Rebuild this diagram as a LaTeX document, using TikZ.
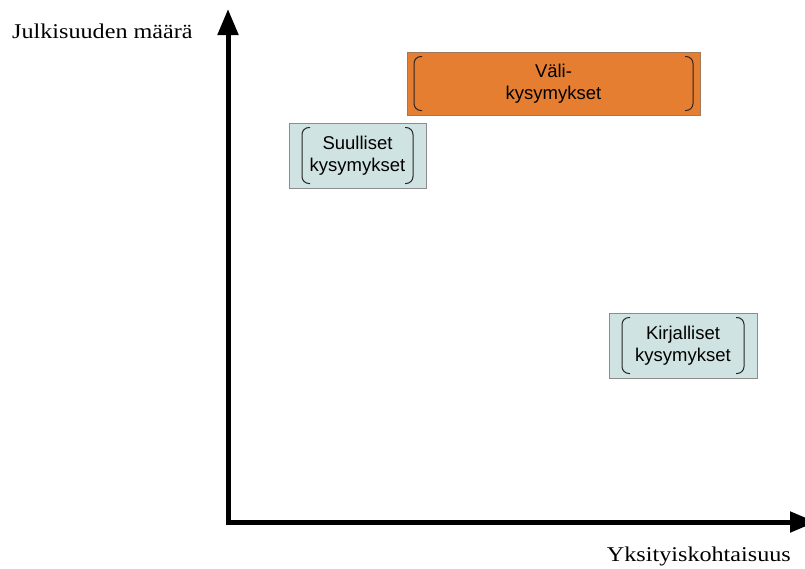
\documentclass[tikz,border=0pt]{standalone}
\usepackage{fontspec}
\setmainfont{Liberation Serif}
\newfontfamily\boxfont{Liberation Sans}
\usetikzlibrary{calc,arrows.meta}

\definecolor{valiorange}{RGB}{230,126,49}
\definecolor{valiedge}{RGB}{160,120,90}
\definecolor{kysfill}{RGB}{207,228,226}
\definecolor{kysedge}{RGB}{140,140,140}

\begin{document}
\begin{tikzpicture}[
  x=1pt, y=-1pt,
  axis/.style={line width=5pt, -{Triangle[length=26pt,width=20pt]}},
  kysbox/.style={rectangle, draw=kysedge, fill=kysfill, line width=0.8pt,
    align=center, font=\boxfont\fontsize{18.5}{22}\selectfont, inner sep=0pt},
  brk/.style={path picture={
    \draw[draw=black!85, line width=1pt, rounded corners=7pt]
      ($(path picture bounding box.north west)+(#1+8pt,-4.5pt)$) --
      ($(path picture bounding box.north west)+(#1,-4.5pt)$) --
      ($(path picture bounding box.south west)+(#1,4.5pt)$) --
      ($(path picture bounding box.south west)+(#1+8pt,4.5pt)$);
    \draw[draw=black!85, line width=1pt, rounded corners=7pt]
      ($(path picture bounding box.north east)+(-#1-8pt,-4.5pt)$) --
      ($(path picture bounding box.north east)+(-#1,-4.5pt)$) --
      ($(path picture bounding box.south east)+(-#1,4.5pt)$) --
      ($(path picture bounding box.south east)+(-#1-8pt,4.5pt)$);
  }},
  axislabel/.style={inner sep=0pt, font=\fontsize{21}{24}\selectfont}
]
\useasboundingbox (0,0) rectangle (805,568);

% axes
\coordinate (origin) at (228,522);
\coordinate (ytip) at (228,9);
\coordinate (xtip) at (816,522);
\draw[axis] ($(origin)+(0,2.5)$) -- (ytip);
\draw[axis] ($(origin)+(-2.5,0)$) -- (xtip);

\node[axislabel, anchor=base west] (ylabel) at (12,38)
  {\scalebox{1.15}[1]{Julkisuuden määrä}};
\node[axislabel, anchor=base east] (xlabel) at (791,561)
  {\scalebox{1.15}[1]{Yksityiskohtaisuus}};

% kysymystyypit
\node[kysbox, fill=valiorange, draw=valiedge, minimum width=293pt,
  minimum height=63pt, brk=7pt] (vali) at (553.5,83.5) {Väli-\\kysymykset};
\node[kysbox, minimum width=137pt, minimum height=65pt, brk=13pt]
  (suul) at (357.5,155.5) {Suulliset\\kysymykset};
\node[kysbox, minimum width=148pt, minimum height=65pt, brk=13pt]
  (kirj) at (683,345.5) {Kirjalliset\\kysymykset};
\end{tikzpicture}
\end{document}
